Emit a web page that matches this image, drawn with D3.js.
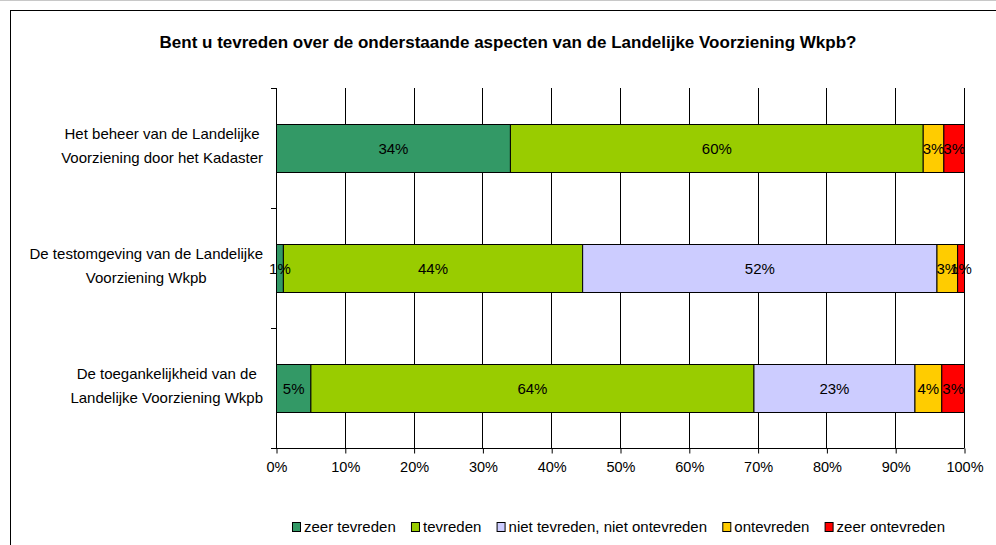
<!DOCTYPE html>
<html><head><meta charset="utf-8">
<script src="https://cdn.jsdelivr.net/npm/d3@7"></script>
<style>
html,body{margin:0;padding:0;background:#fff;}
svg{display:block;font-family:"Liberation Sans",Arial,sans-serif;}
</style></head>
<body>
<svg id="chart" width="996" height="545"></svg>
<script>
const title = "Bent u tevreden over de onderstaande aspecten van de Landelijke Voorziening Wkpb?";
const categories = [
  ["Het beheer van de Landelijke", "Voorziening door het Kadaster"],
  ["De testomgeving van de Landelijke", "Voorziening Wkpb"],
  ["De toegankelijkheid van de", "Landelijke Voorziening Wkpb"]
];
const seriesNames = ["zeer tevreden", "tevreden", "niet tevreden, niet ontevreden", "ontevreden", "zeer ontevreden"];
const seriesColors = ["#339966", "#99CC00", "#CCCCFF", "#FFCC00", "#FF0000"];
const zeerTevreden = [34, 1, 5];
const tevreden = [60, 43.5, 64.4];
const neutraal = [0, 51.5, 23.4];
const ontevreden = [3, 3, 3.9];
const zeerOntevreden = [3, 1, 3.3];
const tickValues = [0, 10, 20, 30, 40, 50, 60, 70, 80, 90, 100];

const series = [zeerTevreden, tevreden, neutraal, ontevreden, zeerOntevreden];
const svg = d3.select("#chart");

// outer frame
svg.append("line").attr("x1",0).attr("x2",996).attr("y1",0.5).attr("y2",0.5).attr("stroke","#c8c8c8");
svg.append("rect").attr("x",10.5).attr("y",10.5).attr("width",1100).attr("height",700)
  .attr("fill","#fff").attr("stroke","#000").attr("stroke-width",1);

svg.append("text").attr("x",508).attr("y",48).attr("text-anchor","middle")
  .attr("font-weight","bold").attr("font-size",17).attr("fill","#000").text(title);

const pLeft = 276, pRight = 964, pTop = 88, pBottom = 448;
const x = d3.scaleLinear().domain([0,100]).range([pLeft,pRight]);
const y = d3.scaleBand().domain(d3.range(categories.length)).range([pTop,pBottom]).paddingInner(0.6).paddingOuter(0.3);
const yb = d3.scaleBand().domain(d3.range(categories.length)).range([pTop,pBottom]);

// gridlines
svg.append("g").selectAll("line").data(tickValues).join("line")
  .attr("x1",d=>Math.round(x(d))+0.5).attr("x2",d=>Math.round(x(d))+0.5)
  .attr("y1",pTop).attr("y2",pBottom).attr("stroke","#000").attr("stroke-width",1);

// x axis
const xAxis = d3.axisBottom(x).tickValues(tickValues).tickFormat(d=>d+"%").tickSizeOuter(0).tickSize(5).tickPadding(8);
const gx = svg.append("g").attr("transform",`translate(0.5,${pBottom+0.5})`).call(xAxis);
gx.select(".domain").attr("d",`M${pLeft-5},0H${pRight}`).attr("stroke","#000");
gx.selectAll(".tick line").attr("stroke","#000");
gx.selectAll(".tick text").attr("font-size",14.5).attr("fill","#000").attr("font-family","'Liberation Sans',Arial,sans-serif");

// y axis ticks
const yTicks = d3.range(categories.length+1).map(i=>pTop + i*yb.step());
svg.append("g").selectAll("line").data(yTicks).join("line")
  .attr("x1",pLeft-5).attr("x2",pLeft).attr("y1",d=>Math.round(d)+0.5).attr("y2",d=>Math.round(d)+0.5).attr("stroke","#000");
svg.append("line").attr("x1",pLeft+0.5).attr("x2",pLeft+0.5).attr("y1",pTop).attr("y2",pBottom).attr("stroke","#000");

// bars
const stackData = categories.map((c,i)=>{ let acc=0; return series.map((s,k)=>{ const v=s[i]; const o={i,k,x0:acc,x1:acc+v,v}; acc+=v; return o;}); });
const gBars = svg.append("g");
stackData.forEach(row=>{
  row.filter(d=>d.v>0).forEach(d=>{
    gBars.append("rect").attr("x",x(d.x0)+0.5).attr("y",Math.round(y(d.i))+0.5)
      .attr("width",x(d.x1)-x(d.x0)).attr("height",y.bandwidth())
      .attr("fill",seriesColors[d.k]).attr("stroke","#000").attr("stroke-width",1);
  });
});
stackData.forEach(row=>{
  row.filter(d=>d.v>0).forEach(d=>{
    gBars.append("text").attr("x",(x(d.x0)+x(d.x1))/2+0.5).attr("y",y(d.i)+y.bandwidth()/2+5.5)
      .attr("text-anchor","middle").attr("font-size",15).attr("fill","#000").text(Math.round(d.v)+"%");
  });
});

// category labels
const gLab = svg.append("g");
categories.forEach((lines,i)=>{
  const cy = yb(i)+yb.bandwidth()/2;
  const t = gLab.append("text").attr("text-anchor","middle").attr("font-size",15).attr("fill","#000");
  lines.forEach((ln,j)=>{
    t.append("tspan").attr("x",0).attr("y",cy - 9 + j*24).text(ln);
  });
  const w = t.node().getBBox().width;
  t.attr("transform",`translate(${263 - w/2},0)`);
});

// legend
const gLeg = svg.append("g");
const legItems = seriesNames.map((n,k)=>{
  const g = gLeg.append("g");
  g.append("rect").attr("x",0.5).attr("y",522.5).attr("width",8).attr("height",9)
    .attr("fill",seriesColors[k]).attr("stroke","#000");
  const t = g.append("text").attr("x",12).attr("y",532).attr("font-size",15).attr("fill","#000").text(n);
  return {g, w: 12 + t.node().getComputedTextLength()};
});
const legStart = 292, legEnd = 945;
const totalW = d3.sum(legItems, d=>d.w);
const gap = (legEnd - legStart - totalW) / (legItems.length - 1);
let cx = legStart;
legItems.forEach(it=>{ it.g.attr("transform",`translate(${cx},0)`); cx += it.w + gap; });
</script>
</body></html>
